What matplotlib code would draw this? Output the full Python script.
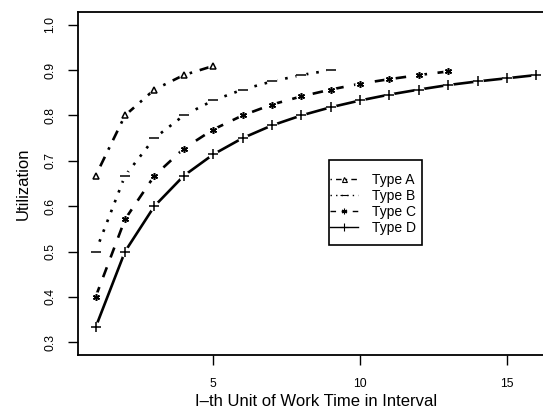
import matplotlib
matplotlib.use('Agg')
import matplotlib.pyplot as plt
from matplotlib.patches import Rectangle

plt.rcParams['font.family'] = ['Liberation Sans', 'DejaVu Sans']

# data
x_a = [1, 2, 3, 4, 5]
util_a = [0.667, 0.800, 0.857, 0.889, 0.909]
x_b = [1, 2, 3, 4, 5, 6, 7, 8, 9]
util_b = [0.500, 0.667, 0.750, 0.800, 0.833, 0.857, 0.875, 0.889, 0.900]
x_c = [1, 2, 3, 4, 5, 6, 7, 8, 9, 10, 11, 12, 13]
util_c = [0.400, 0.571, 0.667, 0.727, 0.769, 0.800, 0.824, 0.842, 0.857,
          0.870, 0.880, 0.889, 0.897]
x_d = [1, 2, 3, 4, 5, 6, 7, 8, 9, 10, 11, 12, 13, 14, 15, 16]
util_d = [0.333, 0.500, 0.600, 0.667, 0.714, 0.750, 0.778, 0.800, 0.818,
          0.833, 0.846, 0.857, 0.867, 0.875, 0.882, 0.889]
labels = ['Type A', 'Type B', 'Type C', 'Type D']
x_ticks = [5, 10, 15]
y_ticks = [0.3, 0.4, 0.5, 0.6, 0.7, 0.8, 0.9, 1.0]

W, H = 543, 419
fig = plt.figure(figsize=(W/100, H/100), dpi=100)
# plot box runs past the right edge, as in the cropped original
ax = fig.add_axes([78/W, (H-355)/H, (554-78)/W, (355-12)/H])

styles = [
    (x_a, util_a, (0, (1, 3, 4, 3)), '^', 4.5),
    (x_b, util_b, (0, (1, 3)), '_', 7),
    (x_c, util_c, (0, (4, 4)), (6, 2, 0), 5),
    (x_d, util_d, '-', '+', 7),
]

handles = []
for (xs, ys, ls, mk, ms), lab in zip(styles, labels):
    ax.plot(xs, ys, color='black', lw=1.9, linestyle=ls)
    # white gap around points, like R type="b"
    ax.plot(xs, ys, linestyle='none', marker='o', ms=7.5, mfc='white',
            mec='none')
    ax.plot(xs, ys, linestyle='none', marker=mk, ms=ms, mfc='none',
            mec='black', mew=1.1, color='black')
    lh, = ax.plot([], [], color='black', lw=1.0, linestyle=ls, marker=mk,
                  ms=ms*0.8, mfc='none', mec='black', mew=0.8)
    handles.append(lh)

ax.set_xlim(0.4, 16.6)
ax.set_ylim(0.272, 1.028)
ax.set_xticks(x_ticks)
ax.set_yticks(y_ticks)
ax.set_yticklabels([f'{v:.1f}' for v in y_ticks], rotation=90, va='center')
ax.tick_params(direction='out', length=7, width=1, labelsize=8.7)
ax.tick_params(axis='x', pad=9.4)
ax.tick_params(axis='y', pad=8.6)
for s in ax.spines.values():
    s.set_linewidth(1.3)

ax.set_xlabel('I\u2013th Unit of Work Time in Interval', fontsize=12, labelpad=3.2)
ax.set_ylabel('Utilization', fontsize=12, labelpad=10)

# legend box (R style: narrow sides, tall top/bottom padding)
box = Rectangle((329/W, (H-245)/H), 93/W, 85/H, transform=fig.transFigure,
                facecolor='white', edgecolor='black', lw=1.2, zorder=5)
fig.patches.append(box)
leg = fig.legend(handles, labels, loc='upper left',
                 bbox_to_anchor=(330/W, (H-173)/H), frameon=False,
                 fontsize=10, handlelength=2.0, handletextpad=1.0,
                 borderpad=0, labelspacing=0.14, borderaxespad=0)
leg.set_zorder(6)

fig.savefig('out.png', dpi=100)
